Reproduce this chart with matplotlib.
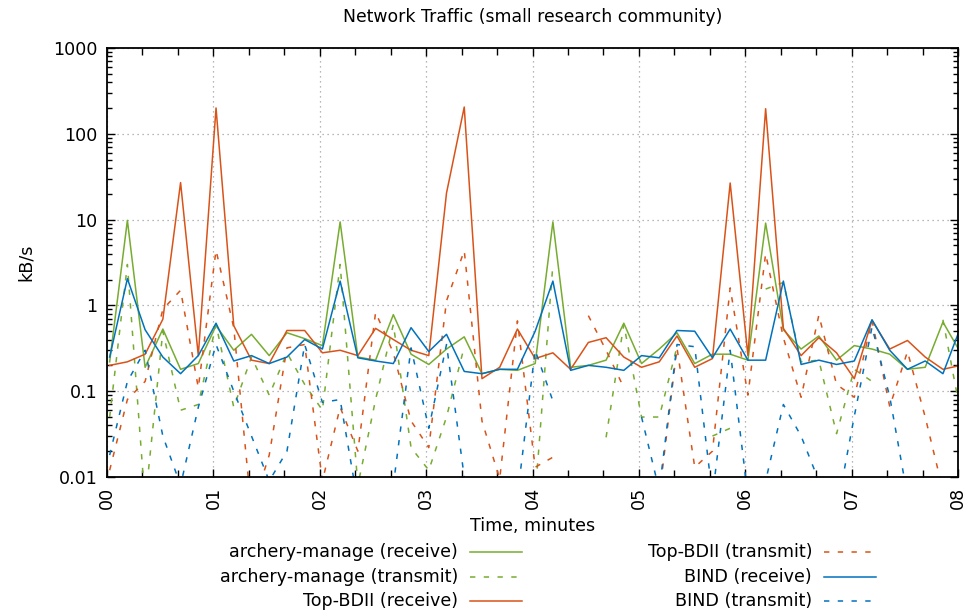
import numpy as np
import matplotlib
matplotlib.use("Agg")
import matplotlib.pyplot as plt
from matplotlib.lines import Line2D
from matplotlib.ticker import FixedLocator, FuncFormatter, LogLocator, NullFormatter

nan = np.nan

# sample times in seconds (10 s polling interval)
t_sec = np.arange(1.5, 482, 10.0)

archery_rx = [0.22, 9.8, 0.19, 0.53, 0.18, 0.21, 0.58, 0.30, 0.46, 0.26,
              0.48, 0.41, 0.34, 9.4, 0.25, 0.23, 0.78, 0.27, 0.205, 0.31,
              0.43, 0.16, 0.18, 0.175, 0.21, 9.4, 0.19, 0.20, 0.23, 0.62,
              0.21, 0.31, 0.48, 0.21, 0.27, 0.27, 0.23, 9.1, 0.52, 0.31,
              0.44, 0.23, 0.34, 0.31, 0.27, 0.18, 0.19, 0.64, 0.28]
archery_tx = [0.05, 3.0, 0.005, 0.5, 0.06, 0.07, 0.6, 0.065, 0.25, 0.09,
              0.28, 0.12, 0.06, 3.0, 0.008, 0.08, 0.6, 0.022, 0.012, 0.05,
              0.33, nan, nan, nan, 0.006, 3.0, nan, nan, 0.029, 0.6,
              0.05, 0.05, 0.33, nan, 0.03, 0.037, nan, 1.55, 1.85, 0.22,
              0.23, 0.032, 0.18, 0.13, nan, nan, nan, 0.68, 0.055]
topbdii_rx = [0.20, 0.22, 0.27, 0.69, 27.0, 0.26, 200.0, 0.58, 0.23, 0.21,
              0.51, 0.51, 0.28, 0.30, 0.26, 0.54, 0.40, 0.30, 0.26, 20.4,
              205.0, 0.14, 0.19, 0.53, 0.24, 0.28, 0.18, 0.37, 0.42, 0.25,
              0.19, 0.22, 0.44, 0.19, 0.24, 26.7, 0.26, 196.0, 0.54, 0.26,
              0.42, 0.28, 0.14, 0.67, 0.31, 0.39, 0.25, 0.18, 0.20]
topbdii_tx = [0.012, 0.08, 0.13, 0.9, 1.5, 0.11, 4.4, 0.55, 0.004, 0.018,
              0.32, 0.35, 0.009, 0.065, 0.02, 0.83, 0.28, 0.045, 0.022, 1.13,
              4.35, 0.045, 0.0095, 0.66, 0.013, 0.017, nan, 0.76, 0.3, 0.11,
              nan, 0.006, 0.32, 0.013, 0.02, 1.6, 0.09, 4.0, 0.42, 0.085,
              0.77, 0.12, 0.085, 0.67, 0.066, 0.29, 0.05, 0.007, 0.004]
bind_rx = [0.25, 2.05, 0.52, 0.25, 0.16, 0.26, 0.62, 0.225, 0.26, 0.21,
           0.25, 0.40, 0.31, 1.92, 0.245, 0.225, 0.21, 0.55, 0.29, 0.46,
           0.17, 0.16, 0.18, 0.18, 0.5, 1.92, 0.175, 0.20, 0.19, 0.175,
           0.26, 0.245, 0.51, 0.50, 0.245, 0.53, 0.23, 0.23, 1.92, 0.205,
           0.23, 0.205, 0.225, 0.68, 0.30, 0.18, 0.225, 0.16, 0.56]
bind_tx = [0.018, 0.13, 0.3, 0.03, 0.008, 0.065, 0.35, 0.1, 0.03, 0.009,
           0.02, 0.35, 0.074, 0.08, 0.005, 0.003, 0.008, 0.32, 0.037, 0.35,
           0.01, nan, nan, 0.006, 0.3, 0.077, nan, nan, nan, nan,
           0.05, 0.007, 0.35, 0.33, 0.006, 0.3, 0.006, 0.009, 0.07, 0.03,
           0.009, 0.004, 0.051, 0.56, 0.086, 0.006, nan, nan, nan]

series = [
    ("archery-manage (receive)", archery_rx, "#77ac30", "-"),
    ("archery-manage (transmit)", archery_tx, "#77ac30", "--"),
    ("Top-BDII (receive)", topbdii_rx, "#d95319", "-"),
    ("Top-BDII (transmit)", topbdii_tx, "#d95319", "--"),
    ("BIND (receive)", bind_rx, "#0072bd", "-"),
    ("BIND (transmit)", bind_tx, "#0072bd", "--"),
]
minute_labels = ["00", "01", "02", "03", "04", "05", "06", "07", "08"]

DASH = (0, (3.5, 5.5))
LW = 1.1
FS = 12.6

fig = plt.figure(figsize=(9.76, 6.13), dpi=100)
ax = fig.add_axes([107 / 976, 1 - 477 / 613, (958 - 107) / 976, (477 - 48) / 613])

for label, vals, color, style in series:
    ls = "-" if style == "-" else DASH
    ax.plot(t_sec, vals, color=color, lw=LW, linestyle=ls, label=label)

ax.set_yscale("log")
ax.set_ylim(0.01, 1000)
ax.set_xlim(0, 480)

ax.xaxis.set_major_locator(FixedLocator(np.arange(0, 481, 60)))
ax.xaxis.set_minor_locator(FixedLocator(np.arange(0, 481, 20)))
ax.set_xticklabels(minute_labels, rotation=90, fontsize=FS)
ax.yaxis.set_major_locator(LogLocator(base=10, numticks=10))
ax.yaxis.set_minor_locator(LogLocator(base=10, subs=np.arange(2, 10), numticks=20))
ax.yaxis.set_minor_formatter(NullFormatter())
ax.yaxis.set_major_formatter(FuncFormatter(lambda v, p: "%g" % v))
for lab in ax.get_yticklabels():
    lab.set_fontsize(FS)

ax.tick_params(which="both", direction="in", top=True, right=True, width=1.0)
ax.tick_params(which="major", length=6, pad=7)
ax.tick_params(which="minor", length=3.5)
ax.tick_params(axis="x", which="minor", length=5)
for s in ax.spines.values():
    s.set_linewidth(1.3)

ax.grid(True, which="major", color="#a0a0a0", linestyle=(0, (1, 3)), linewidth=0.9)

ax.set_title("Network Traffic (small research community)", fontsize=12.4, pad=19)
ax.set_xlabel("Time, minutes", fontsize=FS, labelpad=6)
ax.set_ylabel("kB/s", fontsize=FS, labelpad=13)

# two-column key below the plot: text right-aligned, sample line to its right
W, H = 976.0, 613.0
rows_y = [552, 577, 601]
cols = [(458, 470, 522), (812, 824, 876)]
for i, (label, vals, color, style) in enumerate(series):
    col = cols[i // 3]
    y = rows_y[i % 3]
    fig.text(col[0] / W, 1 - y / H, label, ha="right", va="center", fontsize=FS)
    ls = "-" if style == "-" else DASH
    fig.add_artist(Line2D([col[1] / W, col[2] / W], [1 - y / H, 1 - y / H],
                          color=color, lw=LW, linestyle=ls, transform=fig.transFigure))

fig.savefig("out.png", dpi=100)
